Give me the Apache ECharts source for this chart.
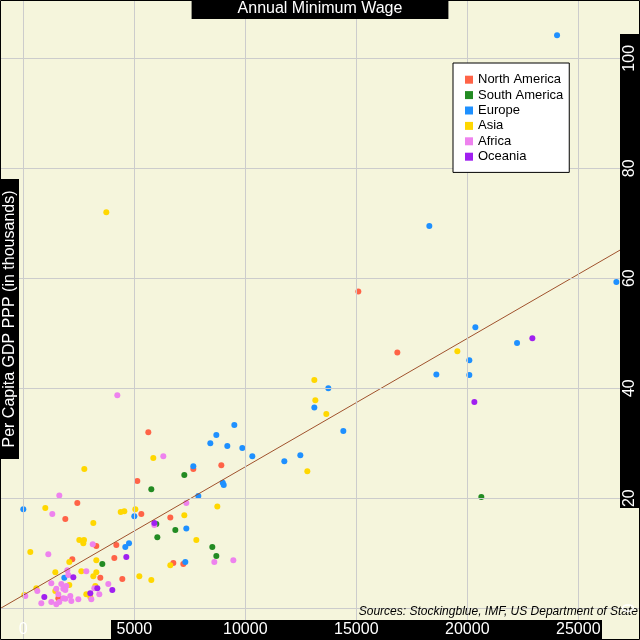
<!DOCTYPE html>
<html>
<head>
<meta charset="utf-8">
<script src="https://cdn.jsdelivr.net/npm/echarts@6/dist/echarts.min.js"></script>
<style>html,body{margin:0;padding:0;background:#F5F5DC;}#chart{width:640px;height:640px;}</style>
</head>
<body>
<div id="chart"></div>
<script>
// Annual minimum wage (USD) vs per capita GDP PPP (thousands)
const northAmerica = [[2433,19.1],[1892,16.2],[3289,11.3],[4190,11.5],[2207,8.9],[4100,9.1],[3469,5.5],[4460,5.3],[1577,1.8],[5136,23.1],[5316,17.1],[6622,16.5],[6758,8.2],[7208,8.0],[5631,32.0],[7659,25.3],[8920,26.0],[16849,46.5],[15092,57.6]];
const southAmerica = [[3559,8.0],[5766,21.6],[5992,15.3],[6848,14.2],[6037,12.9],[8514,11.1],[8695,9.5],[7253,24.2],[20633,20.2]];
const europe = [[0,18.0],[4762,11.8],[4595,11.1],[1847,5.5],[5001,16.7],[7343,14.5],[7298,8.4],[7884,20.4],[8983,22.8],[9028,22.4],[9506,33.3],[8695,31.5],[8424,30.0],[9190,29.5],[9866,29.1],[10316,27.6],[7659,25.8],[11758,26.7],[12479,27.8],[13740,40.0],[13110,36.5],[14416,32.2],[18606,42.5],[18290,69.5],[20363,51.1],[22241,48.2],[20092,45.1],[20092,42.4],[26715,59.3],[24043,104.2]];
const asia = [[991,18.2],[4388,17.5],[4550,17.6],[3154,15.5],[2523,12.4],[2735,12.4],[2703,11.8],[315,10.2],[2072,8.4],[3289,8.7],[1442,6.5],[2613,6.7],[3289,6.5],[3154,5.8],[586,3.6],[2072,4.2],[1442,3.1],[45,2.4],[2838,2.5],[3244,4.0],[3018,2.0],[5046,18.0],[7253,16.9],[8740,18.5],[7794,12.4],[6622,7.8],[5226,5.8],[5766,5.1],[5856,27.3],[2748,25.3],[3739,72.0],[13110,41.5],[13155,37.8],[13650,35.3],[12794,24.9],[19552,46.7]];
const africa = [[1622,20.5],[1306,17.1],[3127,11.6],[1126,9.8],[1982,6.9],[2838,6.7],[2027,6.0],[1261,4.5],[1712,4.4],[1937,4.0],[1802,3.5],[1892,3.3],[631,3.1],[1487,3.5],[90,2.2],[1577,2.5],[1802,1.8],[1892,1.7],[2117,2.2],[811,0.9],[1261,1.1],[1487,0.7],[1622,1.1],[2162,1.3],[2478,1.6],[3199,3.6],[3829,4.4],[3424,2.5],[3063,1.6],[5902,15.1],[7343,19.1],[8605,8.4],[9461,8.7],[4235,38.7],[6307,27.6]];
const oceania = [[2253,5.6],[946,2.0],[3018,2.7],[3334,3.6],[4010,3.3],[4640,9.3],[5902,15.5],[22931,49.1],[20318,37.5]];

const regionNames = ['North America','South America','Europe','Asia','Africa','Oceania'];
const regionColors = ['#FF6347','#228B22','#1E90FF','#FFD700','#EE82EE','#A020F0'];
const regionData = [northAmerica, southAmerica, europe, asia, africa, oceania];

const xTicks = [0,5000,10000,15000,20000,25000];
const yTicks = [0,20,40,60,80,100];
const xRange = [-1050, 27780];
const yRange = [-5.8, 110.6];
// fitted line: y = intercept + slope * x
const fitIntercept = 2.35;
const fitSlope = 0.002335;

const FONT = '"Liberation Sans", Arial, sans-serif';
const chart = echarts.init(document.getElementById('chart'));

const series = [{
  name: 'grid', type: 'scatter', data: [], silent: true, z: 1,
  markLine: {
    silent: true, symbol: ['none','none'], animation: false,
    label: {show: false},
    lineStyle: {color: '#CCCCCC', type: 'solid', width: 1},
    emphasis: {disabled: true},
    data: xTicks.map(v => ({xAxis: v})).concat(yTicks.map(v => ({yAxis: v})))
  }
}];
regionNames.forEach((n, i) => {
  series.push({
    name: n, type: 'scatter', data: regionData[i], symbol: 'circle', symbolSize: 6,
    itemStyle: {color: regionColors[i], opacity: 1}, z: 2, animation: false
  });
});
series.push({
  name: 'fit', type: 'line', symbol: 'none', z: 3, animation: false, silent: true,
  lineStyle: {color: '#A0522D', width: 1},
  data: xRange.map(x => [x, fitIntercept + fitSlope * x])
});

chart.setOption({
  backgroundColor: '#F5F5DC',
  animation: false,
  title: {
    text: 'Annual Minimum Wage', left: 'center', top: 0, z: 200,
    backgroundColor: '#000', padding: [1, 46, 2, 46],
    textStyle: {color: '#fff', fontSize: 16, fontWeight: 'normal', fontFamily: FONT}
  },
  legend: {
    data: regionNames, orient: 'vertical', left: 453, top: 63, z: 150,
    backgroundColor: '#fff', borderColor: '#000', borderWidth: 1, borderRadius: 0,
    padding: [9, 6, 8, 12], itemGap: 0, itemWidth: 8, itemHeight: 8, icon: 'rect',
    textStyle: {color: '#000', fontSize: 13, fontFamily: FONT, lineHeight: 15.4}
  },
  grid: {left: 0, right: 0, top: 0, bottom: 0},
  xAxis: {
    type: 'value', min: xRange[0], max: xRange[1], z: 200,
    splitLine: {show: false}, axisLine: {show: false}, axisTick: {show: false},
    axisLabel: {customValues: xTicks, inside: true, margin: 2, color: '#fff', fontSize: 16, fontFamily: FONT,
      formatter: v => String(v)}
  },
  yAxis: {
    type: 'value', position: 'right', min: yRange[0], max: yRange[1], z: 200,
    splitLine: {show: false}, axisLine: {show: false}, axisTick: {show: false},
    axisLabel: {customValues: yTicks, inside: true, rotate: 90, margin: 2, color: '#fff', fontSize: 16, fontFamily: FONT,
      formatter: v => String(v)}
  },
  graphic: [
    {type: 'rect', z: 100, shape: {x: 111, y: 620, width: 491, height: 20}, style: {fill: '#000'}, silent: true},
    {type: 'rect', z: 100, shape: {x: 620, y: 34, width: 20, height: 474}, style: {fill: '#000'}, silent: true},
    {type: 'rect', z: 100, shape: {x: 0, y: 179, width: 19, height: 280}, style: {fill: '#000'}, silent: true},
    {type: 'text', z: 101, x: 10, y: 319, rotation: Math.PI / 2,
      style: {text: 'Per Capita GDP PPP (in thousands)', fill: '#fff', font: '16px ' + FONT, textAlign: 'center', textVerticalAlign: 'middle'}, silent: true},
    {type: 'text', z: 101, right: 2, top: 606,
      style: {text: 'Sources: Stockingblue, IMF, US Department of State', fill: '#000', font: 'italic 12px ' + FONT}, silent: true},
    {type: 'rect', z: 120, shape: {x: 0.5, y: 0.5, width: 639, height: 639}, style: {fill: 'none', stroke: '#000', lineWidth: 1}, silent: true}
  ],
  series: series
});
</script>
</body>
</html>
